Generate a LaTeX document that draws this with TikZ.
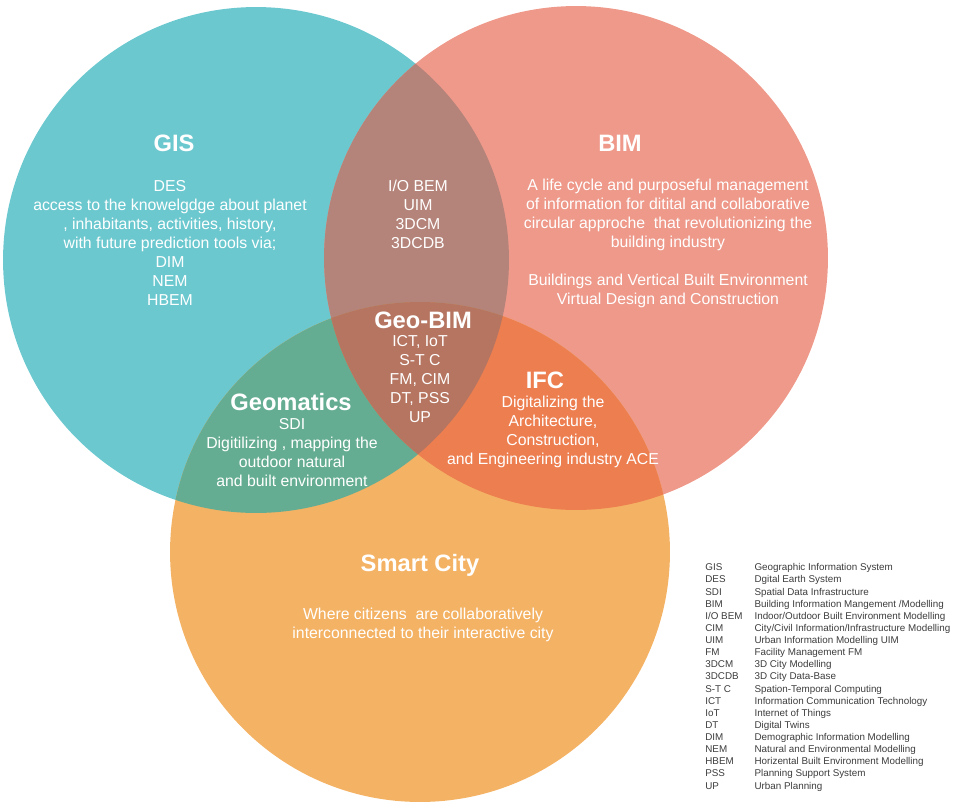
\documentclass[tikz,border=0pt]{standalone}
\usepackage{fontspec}
\setmainfont{Liberation Sans}
\usepackage{xcolor}
\usepackage{array}

\definecolor{gisblue}{RGB}{108,200,207}
\definecolor{bimred}{RGB}{238,153,138}
\definecolor{cityorange}{RGB}{244,178,100}
\definecolor{gisbim}{RGB}{180,131,121}
\definecolor{giscity}{RGB}{100,173,146}
\definecolor{bimcity}{RGB}{237,126,80}
\definecolor{geobim}{RGB}{181,117,96}
\definecolor{legendgray}{RGB}{60,60,60}

\begin{document}
\begin{tikzpicture}[
    x=0.02cm, y=-0.02cm,
    every node/.style={inner sep=0pt},
    title/.style={text=white, font=\fontsize{13.5}{16}\selectfont\bfseries},
    body/.style={text=white, align=center, font=\fontsize{9}{10.8}\selectfont},
]
\useasboundingbox (0,0) rectangle (956,805);

\def\gisarea{(256,260) circle (5.06cm)}
\def\bimarea{(576,258) circle (5.04cm)}
\def\cityarea{(420,552) circle (5cm)}

% Circles
\fill[gisblue] \gisarea;
\fill[bimred] \bimarea;
\fill[cityorange] \cityarea;

% Overlaps
\begin{scope} \clip \gisarea; \fill[gisbim] \bimarea; \end{scope}
\begin{scope} \clip \gisarea; \fill[giscity] \cityarea; \end{scope}
\begin{scope} \clip \bimarea; \fill[bimcity] \cityarea; \end{scope}
\begin{scope} \clip \gisarea; \clip \bimarea; \fill[geobim] \cityarea; \end{scope}

% GIS
\node[title] (gis) at (174,143) {GIS};
\node[body] (gistext) at (170,243) {DES\\access to the knowelgdge about planet\\, inhabitants, activities, history,\\with future prediction tools via;\\DIM\\NEM\\HBEM};

% BIM
\node[title] (bim) at (620,143) {BIM};
\node[body] (bimtext) at (668,243) {A life cycle and purposeful management\\of information for ditital and collaborative\\circular approche\ \ that revolutionizing the\\building industry\\[10.8pt]Buildings and Vertical Built Environment\\Virtual Design and Construction};

% GIS and BIM
\node[body] (iobem) at (418,214) {I/O BEM\\UIM\\3DCM\\3DCDB};

% Geo-BIM
\node[title] (geobim) at (423,320) {Geo-BIM};
\node[body] (geobimtext) at (420,379) {ICT, IoT\\S-T C\\FM, CIM\\DT, PSS\\UP};

% Geomatics
\node[title] (geomatics) at (291,402) {Geomatics};
\node[body] (geomaticstext) at (292,453) {SDI\\Digitilizing , mapping the\\outdoor natural\\and built environment};

% IFC
\node[title] (ifc) at (545,380) {IFC};
\node[body] (ifctext) at (553,432) {Digitalizing the\\Architecture,\\Construction,\\and Engineering industry ACE};

% Smart City
\node[title] (city) at (420,565) {Smart City};
\node[body] (citytext) at (423,625) {Where citizens\ \ are collaboratively\\interconnected to their interactive city};

% Legend
\node[anchor=north west, text=legendgray, font=\fontsize{5.6}{6.9}\selectfont] (legend) at (705,562) {%
\begin{tabular}{@{}p{28pt}@{}l@{}}
GIS & Geographic Information System\\
DES & Dgital Earth System\\
SDI & Spatial Data Infrastructure\\
BIM & Building Information Mangement /Modelling\\
I/O BEM & Indoor/Outdoor Built Environment Modelling\\
CIM & City/Civil Information/Infrastructure Modelling\\
UIM & Urban Information Modelling UIM\\
FM & Facility Management FM\\
3DCM & 3D City Modelling\\
3DCDB & 3D City Data-Base\\
S-T C & Spation-Temporal Computing\\
ICT & Information Communication Technology\\
IoT & Internet of Things\\
DT & Digital Twins\\
DIM & Demographic Information Modelling\\
NEM & Natural and Environmental Modelling\\
HBEM & Horizental Built Environment Modelling\\
PSS & Planning Support System\\
UP & Urban Planning
\end{tabular}};

\end{tikzpicture}
\end{document}
